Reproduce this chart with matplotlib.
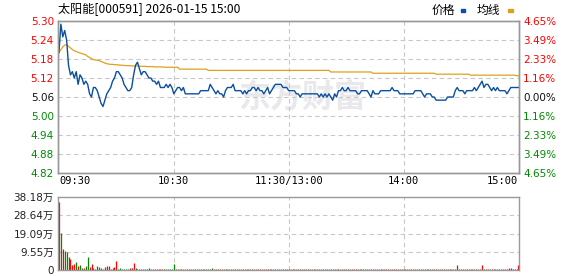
import matplotlib.pyplot as plt
from matplotlib.patches import Rectangle

plt.rcParams['font.family'] = ['DejaVu Sans', 'Noto Sans CJK SC']

title = "太阳能[000591] 2026-01-15 15:00"

# minute-by-minute price, 09:30 .. 11:30 (=13:00) .. 15:00
price = [
    5.20, 5.29, 5.25, 5.27, 5.24, 5.16, 5.13, 5.14, 5.12, 5.14,
    5.10, 5.13, 5.12, 5.10, 5.11, 5.10, 5.07, 5.06, 5.09, 5.09,
    5.08, 5.06, 5.04, 5.03, 5.05, 5.07, 5.08, 5.09, 5.11, 5.12,
    5.14, 5.14, 5.13, 5.12, 5.10, 5.09, 5.08, 5.08, 5.09, 5.13,
    5.16, 5.17, 5.15, 5.13, 5.14, 5.14, 5.13, 5.12, 5.12, 5.11,
    5.11, 5.10, 5.11, 5.09, 5.09, 5.09, 5.10, 5.09, 5.10, 5.09,
    5.07, 5.08, 5.09, 5.09, 5.08, 5.09, 5.07, 5.07, 5.07, 5.07,
    5.07, 5.07, 5.07, 5.07, 5.08, 5.08, 5.08, 5.08, 5.08, 5.10,
    5.09, 5.08, 5.07, 5.08, 5.07, 5.07, 5.06, 5.08, 5.09, 5.09,
    5.09, 5.10, 5.08, 5.08, 5.08, 5.08, 5.07, 5.08, 5.07, 5.08,
    5.08, 5.09, 5.09, 5.08, 5.09, 5.08, 5.08, 5.07, 5.08, 5.09,
    5.07, 5.08, 5.09, 5.10, 5.10, 5.10, 5.10, 5.09, 5.09, 5.09,
    5.08, 5.08, 5.08, 5.08, 5.07, 5.07, 5.06, 5.07, 5.07, 5.07,
    5.07, 5.07, 5.07, 5.07, 5.07, 5.07, 5.06, 5.07, 5.06, 5.07,
    5.06, 5.07, 5.06, 5.05, 5.07, 5.06, 5.08, 5.08, 5.09, 5.08,
    5.08, 5.09, 5.08, 5.08, 5.08, 5.08, 5.07, 5.07, 5.08, 5.08,
    5.08, 5.08, 5.07, 5.06, 5.08, 5.07, 5.07, 5.07, 5.08, 5.08,
    5.08, 5.08, 5.08, 5.08, 5.09, 5.08, 5.08, 5.08, 5.07, 5.07,
    5.07, 5.07, 5.07, 5.07, 5.07, 5.07, 5.08, 5.08, 5.08, 5.08,
    5.07, 5.06, 5.07, 5.07, 5.07, 5.06, 5.06, 5.05, 5.05, 5.05,
    5.05, 5.05, 5.05, 5.06, 5.06, 5.06, 5.06, 5.08, 5.09, 5.08,
    5.08, 5.08, 5.07, 5.08, 5.08, 5.08, 5.08, 5.09, 5.08, 5.09,
    5.10, 5.11, 5.09, 5.10, 5.10, 5.09, 5.08, 5.09, 5.08, 5.09,
    5.08, 5.08, 5.08, 5.08, 5.07, 5.08, 5.09, 5.09, 5.09, 5.09,
    5.09,
]

avg_price = [
    5.200, 5.210, 5.218, 5.224, 5.225, 5.220, 5.215, 5.210, 5.206, 5.204,
    5.201, 5.199, 5.197, 5.195, 5.193, 5.188, 5.185, 5.181, 5.178, 5.177,
    5.176, 5.175, 5.172, 5.170, 5.167, 5.165, 5.164, 5.163, 5.163, 5.162,
    5.162, 5.161, 5.161, 5.160, 5.160, 5.159, 5.159, 5.159, 5.158, 5.158,
    5.158, 5.158, 5.157, 5.157, 5.157, 5.157, 5.156, 5.156, 5.156, 5.156,
    5.155, 5.155, 5.155, 5.155, 5.155, 5.154, 5.154, 5.154, 5.154, 5.154,
    5.154, 5.154, 5.154, 5.148, 5.148, 5.148, 5.148, 5.148, 5.148, 5.148,
    5.148, 5.148, 5.148, 5.148, 5.148, 5.148, 5.148, 5.148, 5.144, 5.144,
    5.144, 5.144, 5.144, 5.144, 5.144, 5.144, 5.144, 5.144, 5.144, 5.144,
    5.144, 5.144, 5.144, 5.144, 5.144, 5.144, 5.144, 5.144, 5.144, 5.144,
    5.144, 5.144, 5.144, 5.144, 5.144, 5.144, 5.144, 5.144, 5.144, 5.144,
    5.144, 5.144, 5.144, 5.144, 5.144, 5.144, 5.144, 5.144, 5.144, 5.144,
    5.144, 5.144, 5.144, 5.144, 5.144, 5.144, 5.144, 5.144, 5.144, 5.144,
    5.144, 5.144, 5.144, 5.144, 5.144, 5.144, 5.144, 5.144, 5.144, 5.144,
    5.144, 5.144, 5.139, 5.139, 5.139, 5.139, 5.139, 5.139, 5.139, 5.139,
    5.139, 5.139, 5.139, 5.139, 5.139, 5.139, 5.139, 5.139, 5.139, 5.139,
    5.139, 5.139, 5.139, 5.139, 5.135, 5.135, 5.135, 5.135, 5.135, 5.135,
    5.135, 5.135, 5.135, 5.135, 5.135, 5.135, 5.135, 5.135, 5.135, 5.135,
    5.135, 5.135, 5.135, 5.135, 5.135, 5.135, 5.135, 5.135, 5.135, 5.135,
    5.135, 5.135, 5.135, 5.135, 5.135, 5.135, 5.135, 5.132, 5.132, 5.132,
    5.132, 5.132, 5.132, 5.132, 5.132, 5.132, 5.132, 5.132, 5.132, 5.132,
    5.132, 5.132, 5.132, 5.132, 5.132, 5.129, 5.129, 5.129, 5.129, 5.129,
    5.129, 5.129, 5.129, 5.129, 5.129, 5.129, 5.129, 5.129, 5.129, 5.129,
    5.129, 5.129, 5.129, 5.129, 5.129, 5.129, 5.129, 5.129, 5.129, 5.127,
    5.127,
]

# volume per minute, in 万 (10k shares)
volume = [
    35.4, 19.5, 11.2, 9.9, 9.4, 6.8, 5.9, 2.8, 3.3, 4.2,
    1.9, 2.8, 1.2, 1.2, 2.3, 6.8, 1.7, 3.1, 1.0, 0.7,
    2.3, 1.6, 1.0, 0.7, 1.4, 1.9, 2.3, 0.7, 1.0, 1.7,
    4.7, 0.7, 1.0, 0.7, 0.5, 0.5, 0.5, 1.0, 1.0, 3.7,
    1.2, 0.5, 0.5, 0.5, 0.5, 0.5, 0.5, 1.0, 0.5, 0.5,
    0.5, 0.5, 0.5, 0.5, 0.4, 0.4, 0.4, 0.4, 0.4, 0.4,
    3.2, 0.5, 0.4, 0.4, 0.5, 0.4, 0.6, 0.4, 0.3, 0.4,
    0.4, 0.5, 0.4, 0.4, 0.5, 0.4, 0.4, 0.5, 0.4, 0.6,
    1.2, 0.5, 0.4, 0.4, 0.5, 0.4, 0.4, 0.5, 0.4, 0.4,
    0.5, 0.4, 0.4, 0.5, 0.4, 0.4, 0.5, 0.4, 0.4, 0.5,
    0.4, 0.4, 0.5, 0.4, 0.4, 0.5, 0.4, 0.4, 0.5, 0.4,
    0.4, 0.5, 0.4, 0.4, 0.5, 0.4, 0.4, 0.5, 0.4, 0.4,
    0.5, 0.4, 0.4, 0.5, 0.4, 0.4, 0.5, 0.4, 0.4, 0.5,
    0.4, 0.4, 0.5, 0.4, 0.4, 0.5, 0.4, 0.4, 0.5, 0.4,
    0.4, 0.5, 0.4, 0.4, 0.5, 0.4, 0.4, 0.5, 0.4, 0.4,
    0.5, 0.4, 0.7, 0.4, 0.5, 0.4, 0.4, 0.5, 0.4, 0.4,
    0.5, 0.4, 0.4, 0.5, 0.4, 0.4, 0.5, 0.4, 0.4, 0.5,
    0.4, 0.4, 0.5, 0.4, 0.4, 0.5, 0.4, 0.4, 0.5, 0.4,
    0.4, 0.5, 0.4, 0.4, 0.5, 0.4, 0.4, 0.5, 0.4, 0.4,
    0.5, 0.4, 0.4, 0.5, 0.4, 0.4, 0.5, 0.4, 0.4, 0.5,
    0.4, 0.4, 0.5, 0.4, 0.4, 0.5, 0.4, 0.4, 2.7, 0.5,
    0.4, 0.4, 0.5, 0.4, 0.4, 0.5, 0.4, 0.4, 0.5, 0.4,
    0.5, 2.7, 0.4, 0.5, 0.4, 0.4, 0.5, 0.4, 0.4, 0.5,
    0.4, 0.4, 0.5, 0.4, 0.4, 0.9, 1.1, 0.6, 0.5, 0.4,
    2.7,
]

# r = up bar, g = down bar
vol_dir = (
    "rgrgggrrrg" "rggrggrrrr" "gggrrrrgrr" "rggggggrrr" "grrrggggrr"
    "rrrrrgggggg"
    "rgrgrrgrgr" "grrgrgrrgg" "rgrrgrgrgr" "rrgrgrrgrg" "rgrrgrgrrg"
    "rgrgrrgrgr" "grrgrgrrgr" "rgrgrrgrgr" "rrgrgrgrrg" "rgrrgrgrgr"
    "grgrrgrgrr" "rgrgrrgrgr" "rrgrgrgrrg" "rgrgrrgrgr" "grrgrgrrgr"
    "rgrgrrgrgr" "rgrrgrgrrg" "grrgrrrrgr"
)

price_ticks = [4.82, 4.88, 4.94, 5.00, 5.06, 5.12, 5.18, 5.24, 5.30]
pct_labels = ["4.65%", "3.49%", "2.33%", "1.16%", "0.00%",
              "1.16%", "2.33%", "3.49%", "4.65%"]
vol_ticks = [0, 9.55, 19.09, 28.64, 38.18]
vol_labels = ["0", "9.55万", "19.09万", "28.64万", "38.18万"]
time_ticks = [0, 60, 120, 180, 240]
time_labels = ["09:30", "10:30", "11:30/13:00", "14:00", "15:00"]

RED = "#ff0000"
GREEN = "#008a00"
BLUE = "#0b4f9e"
GOLD = "#dca21c"
GRID = "#c8c8c8"
FRAME = "#999999"


def label_color(v, mid=5.06):
    if abs(v - mid) < 1e-6:
        return "#111111"
    return RED if v > mid else GREEN


fig = plt.figure(figsize=(5.78, 2.76), dpi=100)
ax = fig.add_axes([58 / 578, 103 / 276, 461 / 578, 152 / 276])
axv = fig.add_axes([58 / 578, 6 / 276, 461 / 578, 73 / 276])

x = list(range(len(price)))

ax.text(0.53, 0.49, "东方财富", transform=ax.transAxes, fontsize=23,
        fontweight="bold", color="#e9e9ed", ha="center", va="center",
        family=["Noto Sans CJK SC"], zorder=0)
ax.plot(x, avg_price, color=GOLD, lw=0.9, zorder=3)
ax.plot(x, price, color=BLUE, lw=1.0, zorder=4)

ax.set_xlim(-0.5, 240.3)
ax.set_ylim(4.82, 5.30)
ax.set_yticks(price_ticks)
ax.set_yticklabels([f"{t:.2f}" for t in price_ticks], fontsize=7.5)
for lab, t in zip(ax.get_yticklabels(), price_ticks):
    lab.set_color(label_color(t))
ax.set_xticks(time_ticks)
ax.set_xticklabels(time_labels, fontsize=7.5, family="DejaVu Sans Mono")
ax.get_xticklabels()[0].set_horizontalalignment("left")
ax.get_xticklabels()[-1].set_horizontalalignment("right")
ax.tick_params(length=0, pad=3)
ax.tick_params(axis="x", pad=2)
for t in price_ticks[1:-1]:
    ax.axhline(t, color=GRID, lw=0.8, ls=(0, (4, 3)), zorder=1)
for t in time_ticks[1:-1]:
    ax.axvline(t, color=GRID, lw=0.8, ls=(0, (4, 3)), zorder=1)

ax2 = ax.twinx()
ax2.set_ylim(4.82, 5.30)
ax2.set_yticks(price_ticks)
ax2.set_yticklabels(pct_labels, fontsize=7.5)
for lab, t in zip(ax2.get_yticklabels(), price_ticks):
    lab.set_color(label_color(t))
ax2.tick_params(length=0, pad=3)

for a in (ax, ax2, axv):
    for s in a.spines.values():
        s.set_color(FRAME)
        s.set_linewidth(1.0)

# volume bars
bar_colors = [RED if c == "r" else GREEN for c in vol_dir]
axv.vlines(x, 0, volume, colors=bar_colors, lw=0.9)
axv.set_xlim(-0.5, 240.3)
axv.set_ylim(0, 38.18)
axv.set_yticks(vol_ticks)
axv.set_yticklabels(vol_labels, fontsize=7.5, color="#222222")
axv.set_xticks([])
axv.tick_params(length=0, pad=3)
for t in vol_ticks[1:-1]:
    axv.axhline(t, color=GRID, lw=0.8, ls=(0, (4, 3)), zorder=0)
for t in time_ticks[1:-1]:
    axv.axvline(t, color=GRID, lw=0.8, ls=(0, (4, 3)), zorder=0)

# header
fig.text(58 / 578, 1 - 10 / 276, title, fontsize=8.7, va="center",
         family=["Noto Sans CJK SC"])
fig.text(432 / 578, 1 - 10 / 276, "价格", fontsize=8.5, va="center",
         family=["Noto Sans CJK SC"])
fig.patches.append(Rectangle((461 / 578, 1 - 12 / 276), 4 / 578, 3 / 276,
                             color=BLUE, transform=fig.transFigure))
fig.text(477 / 578, 1 - 10 / 276, "均线", fontsize=8.5, va="center",
         family=["Noto Sans CJK SC"])
fig.patches.append(Rectangle((508 / 578, 1 - 12 / 276), 5 / 578, 3 / 276,
                             color=GOLD, transform=fig.transFigure))

fig.savefig("out.png", dpi=100)
plt.close(fig)
